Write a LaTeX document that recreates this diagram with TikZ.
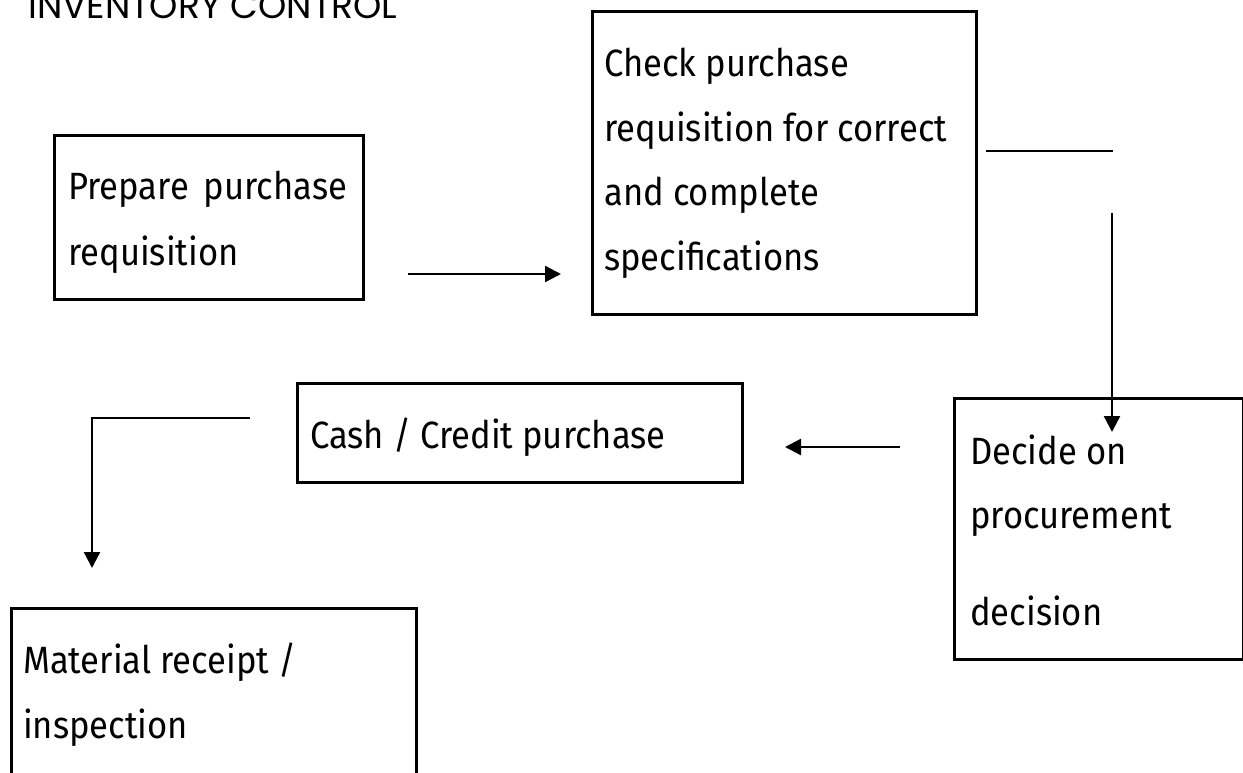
\documentclass[tikz,border=0pt]{standalone}
\usepackage{fontspec}
\setmainfont{Fira Sans}[FakeStretch=0.91]
\newfontfamily\titlefont{Poppins}
\usetikzlibrary{arrows.meta}
\begin{document}
\begin{tikzpicture}[x=1pt,y=-1pt,
  box/.style={draw=black,line width=2.6pt,rectangle,inner sep=0pt,anchor=north west},
  txt/.style={anchor=base west,inner sep=0pt,font=\fontsize{38}{44}\selectfont},
  conn/.style={line width=2.4pt,draw=black},
  arr/.style={conn,-{Triangle[length=16pt,width=16pt]}}]
\useasboundingbox (0,0) rectangle (1243,773);
\begin{scope}
\clip (0,0) rectangle (1243,773);
% title
\node[anchor=base west,inner sep=0pt,font=\titlefont\fontsize{36}{42}\selectfont] (title) at (28,19) {INVENTORY CONTROL};
% boxes
\node[box,minimum width=309pt,minimum height=164pt] (b1) at (53,134) {};
\node[box,minimum width=384pt,minimum height=303pt] (b2) at (591,10) {};
\node[box,minimum width=289pt,minimum height=261pt] (b3) at (953,397) {};
\node[box,minimum width=445pt,minimum height=99pt] (b4) at (296,382) {};
\node[box,minimum width=405pt,minimum height=200pt] (b5) at (10,607) {};
% texts
\node[txt] (t1a) at (68,200) {\makebox[279pt][s]{Prepare purchase}};
\node[txt] (t1b) at (68,265) {requisition};
\node[txt] (t2a) at (604,77) {Check purchase};
\node[txt] (t2b) at (604,142) {requisition for correct};
\node[txt] (t2c) at (604,206) {and complete};
\node[txt] (t2d) at (604,270) {specifications};
\node[txt] (t3a) at (970,464) {Decide on};
\node[txt] (t3b) at (970,528) {procurement};
\node[txt] (t3c) at (970,625) {decision};
\node[txt] (t4a) at (310,448) {Cash / Credit purchase};
\node[txt] (t5a) at (23,673) {Material receipt /};
\node[txt] (t5b) at (23,738) {inspection};
% connector ends
\coordinate (a1s) at (408,274);
\coordinate (a1e) at (561,274);
\coordinate (s1) at (986,151);
\coordinate (s2) at (1113,151);
\coordinate (v1) at (1112,213);
\coordinate (v2) at (1112,432);
\coordinate (h1) at (900,447);
\coordinate (h2) at (785,447);
\coordinate (l1) at (250,418);
\coordinate (l2) at (92,418);
\coordinate (l3) at (92,568);
\draw[arr] (a1s) -- (a1e);
\draw[conn] (s1) -- (s2);
\draw[arr] (v1) -- (v2);
\draw[arr] (h1) -- (h2);
\draw[arr] (l1) -- (l2) -- (l3);
\end{scope}
\end{tikzpicture}
\end{document}
